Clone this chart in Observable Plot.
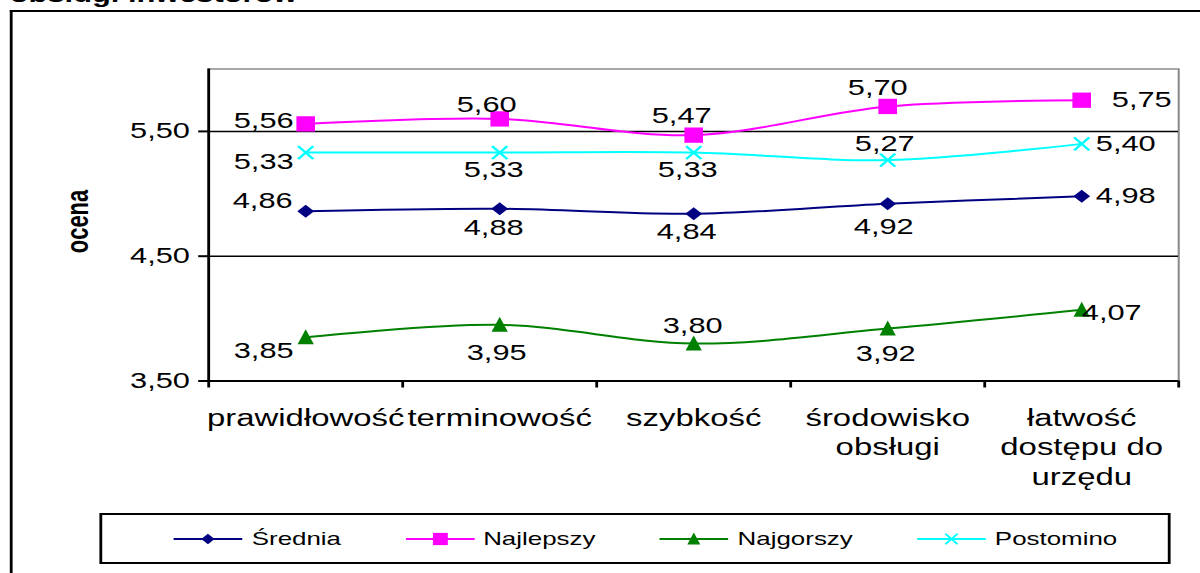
<!DOCTYPE html>
<html><head><meta charset="utf-8">
<script src="https://cdn.jsdelivr.net/npm/d3@7"></script>
<script src="https://cdn.jsdelivr.net/npm/@observablehq/plot@0.6"></script>
<style>
html,body{margin:0;padding:0;background:#fff;overflow:hidden;width:1200px;height:573px;}
#wrap{position:absolute;left:0;top:0;width:857px;height:573px;transform-origin:0 0;font-family:"Liberation Sans",Arial,sans-serif;color:#000;}
#title{position:absolute;left:7px;top:-16px;font-weight:bold;font-size:22px;line-height:22px;white-space:nowrap;}
#frame{position:absolute;left:6.6px;top:10px;width:900px;height:700px;border-left:2px solid #000;border-top:2px solid #000;box-sizing:border-box;}
#chart{position:absolute;left:0;top:0;}
#legend{position:absolute;left:71.4px;top:513px;width:764.3px;height:51px;border:2px solid #000;box-sizing:border-box;display:flex;align-items:center;padding-left:50.9px;background:#fff;}
.item{display:flex;align-items:center;margin-right:46px;font-size:18.5px;white-space:nowrap;}
.item svg{margin-right:6.5px;overflow:visible;}
</style></head>
<body>
<div id="wrap">
  <div id="title">obsługi inwestorów</div>
  <div id="frame"></div>
  <div id="chart"></div>
  <div id="legend"></div>
</div>
<script>
// ---- data ----
const categories = ["prawidłowość", "terminowość", "szybkość", "środowisko obsługi", "łatwość dostępu do urzędu"];
const seriesNames = ["Średnia", "Najlepszy", "Najgorszy", "Postomino"];
const srednia   = [4.86, 4.88, 4.84, 4.92, 4.98];
const najlepszy = [5.56, 5.60, 5.47, 5.70, 5.75];
const najgorszy = [3.85, 3.95, 3.80, 3.92, 4.07];
const postomino = [5.33, 5.33, 5.33, 5.27, 5.40];
const yTicks = [3.5, 4.5, 5.5];
const yLabel = "ocena";

// ---- styling ----
const seriesValues = [srednia, najlepszy, najgorszy, postomino];
const seriesColors = ["#000080", "#FF00FF", "#008000", "#00FFFF"];
const S = 1200 / 857; // horizontal stretch of the original picture
document.getElementById("wrap").style.transform = `scaleX(${S})`;

const symbols = [
  {draw(c){ c.moveTo(0,-6.5); c.lineTo(6,0); c.lineTo(0,6.5); c.lineTo(-6,0); c.closePath(); }},
  {draw(c){ c.rect(-6.65,-7.65,13.3,15.3); }},
  {draw(c){ c.moveTo(0,-8); c.lineTo(5.8,7); c.lineTo(-5.8,7); c.closePath(); }},
  {draw(c){ c.moveTo(-5.4,-6.5); c.lineTo(5.4,6.5); c.moveTo(-5.4,6.5); c.lineTo(5.4,-6.5); }}
];
// label offsets [dx (picture px), dy]
const labelOffsets = [
  [[-43,-10],[-6,19],[-7,18],[-4,23],[44,0]],
  [[-42,-3],[-13,-14],[-12,-19],[-10,-18],[60,0]],
  [[-42,14],[-3,28],[-1,-18],[-2,25],[30,3]],
  [[-42,9],[-6,17],[-6,17],[-3,-16],[44,0]]
];

const fmt = v => v.toFixed(2).replace(".", ",");
const rows = seriesNames.flatMap((s, k) => seriesValues[k].map((v, i) => ({series: s, k, i, value: v})));
const boundaries = categories.map((_, i) => i - 0.5).concat(categories.length - 0.5);
const centers = categories.map((_, i) => i);

const dots = seriesNames.map((s, k) => Plot.dot(rows.filter(r => r.k === k), {
  x: "i", y: "value", symbol: symbols[k], r: 5,
  fill: k === 3 ? "none" : seriesColors[k],
  stroke: k === 3 ? seriesColors[k] : "none",
  strokeWidth: 2
}));
const labels = rows.map(r => Plot.text([r], {
  x: "i", y: "value", text: d => fmt(d.value),
  dx: labelOffsets[r.k][r.i][0] / S, dy: labelOffsets[r.k][r.i][1],
  fontSize: 22, fill: "#000"
}));

const chart = Plot.plot({
  width: 857, height: 500,
  marginLeft: 148.55, marginRight: 15.7, marginTop: 68.5, marginBottom: 119.5,
  style: {fontFamily: '"Liberation Sans", Arial, sans-serif', fontSize: "22px", color: "#000", background: "transparent", overflow: "visible"},
  x: {type: "linear", domain: [-0.5, categories.length - 0.5], label: null},
  y: {domain: [3.5, 6.0], label: null},
  color: {domain: seriesNames, range: seriesColors},
  marks: [
    Plot.frame({stroke: "#8c8c8c", strokeWidth: 1.5}),
    Plot.ruleY(yTicks.slice(1), {stroke: "#000", strokeWidth: 1.5}),
    Plot.ruleY([yTicks[0]], {stroke: "#000", strokeWidth: 2}),
    Plot.ruleX([-0.5], {stroke: "#000", strokeWidth: 2}),
    Plot.axisY(yTicks, {tickSize: 7, tickPadding: 6.4, tickFormat: fmt, fontSize: 22, label: null, strokeWidth: 2, stroke: "#000"}),
    Plot.axisX(boundaries, {tickSize: 7, tickFormat: () => "", label: null, strokeWidth: 2, stroke: "#000"}),
    Plot.axisX(centers, {tickSize: 0, tickPadding: 24, tickFormat: i => categories[i], lineWidth: 5.9, lineHeight: 1.25, fontSize: 23.5, label: null}),
    Plot.text([yLabel], {frameAnchor: "left", textAnchor: "middle", dx: -93.5, dy: -3.5, rotate: -90, fontWeight: "bold", fontSize: 22, fill: "#000"}),
    Plot.line(rows, {x: "i", y: "value", z: "series", stroke: "series", strokeWidth: 2, curve: "cardinal"}),
    ...dots,
    ...labels
  ]
});
document.getElementById("chart").appendChild(chart);

// ---- legend ----
const legend = document.getElementById("legend");
seriesNames.forEach((name, k) => {
  const p = d3.path(); symbols[k].draw(p, 0);
  const item = document.createElement("div"); item.className = "item";
  item.innerHTML = `<svg width="49" height="20"><line x1="0" x2="49" y1="10" y2="10" stroke="${seriesColors[k]}" stroke-width="2"/>` +
    `<path transform="translate(24.5,10) scale(0.8)" d="${p}" fill="${k === 3 ? "none" : seriesColors[k]}" stroke="${k === 3 ? seriesColors[k] : "none"}" stroke-width="2"/></svg><span>${name}</span>`;
  legend.appendChild(item);
});
</script>
</body></html>
